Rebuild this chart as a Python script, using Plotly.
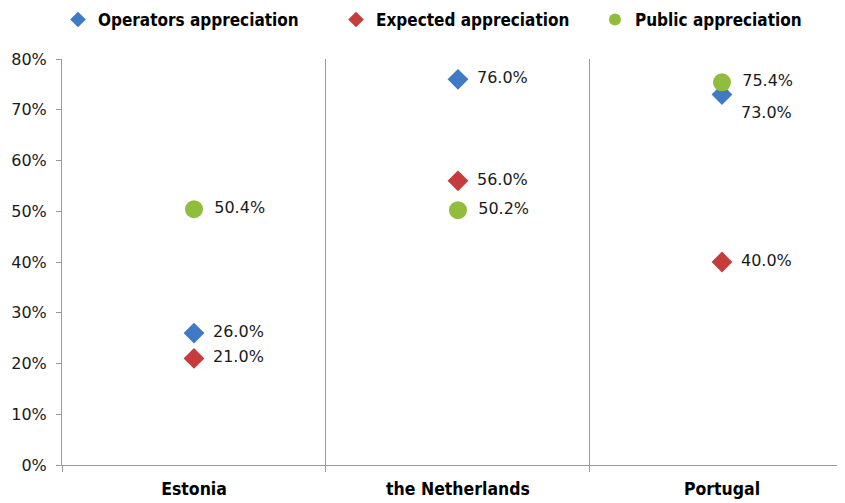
import plotly.graph_objects as go

categories = ["Estonia", "the Netherlands", "Portugal"]
operators = [26.0, 76.0, 73.0]
expected = [21.0, 56.0, 40.0]
public = [50.4, 50.2, 75.4]
y_ticks = [0, 10, 20, 30, 40, 50, 60, 70, 80]
y_tick_labels = [f"{v}%" for v in y_ticks]

xpos = list(range(len(categories)))
label_font = dict(family="DejaVu Sans", size=16, color="#1a1a1a")
W, H = 837, 495  # page body adds an 8px offset

def fmt(vals):
    return [f"\u2002{v:.1f}%" for v in vals]

fig = go.Figure()
fig.add_trace(go.Scatter(
    x=xpos, y=operators, mode="markers+text", name="Operators appreciation",
    marker=dict(symbol="diamond", size=16, color="#3F7AC6"),
    text=fmt(operators),
    textposition=["middle right", "middle right", "bottom right"],
    textfont=label_font, cliponaxis=False, legend="legend",
))
fig.add_trace(go.Scatter(
    x=xpos, y=expected, mode="markers+text", name="Expected appreciation",
    marker=dict(symbol="diamond", size=16, color="#C63B3B"),
    text=fmt(expected), textposition="middle right",
    textfont=label_font, cliponaxis=False, legend="legend2",
))
fig.add_trace(go.Scatter(
    x=xpos, y=public, mode="markers+text", name="Public appreciation",
    marker=dict(symbol="circle", size=18, color="#90BD3C"),
    text=fmt(public), textposition="middle right",
    textfont=label_font, cliponaxis=False, legend="legend3",
))

legend_font = dict(family="DejaVu Sans Condensed", size=17, color="#000000", weight="bold")
def leg(xpx):
    return dict(orientation="h", x=xpx / W, y=1 - 12 / H, xanchor="left", yanchor="middle",
                xref="container", yref="container", font=legend_font,
                itemsizing="constant", bgcolor="rgba(0,0,0,0)")

fig.update_layout(
    width=W, height=H,
    margin=dict(l=54, r=0, t=51, b=38, autoexpand=False),
    paper_bgcolor="white", plot_bgcolor="white",
    showlegend=True,
    legend=leg(50), legend2=leg(328), legend3=leg(587),
    xaxis=dict(
        range=[-0.5, 2.466], tickvals=xpos, ticktext=categories,
        tickfont=dict(family="DejaVu Sans Condensed", size=17.5, color="#000000", weight="bold"),
        showgrid=False, zeroline=False, ticks="", automargin=False,
        showline=True, linecolor="#9a9a9a", linewidth=1,
        minor=dict(tick0=0.5, dtick=1, showgrid=True, gridcolor="#9a9a9a", gridwidth=1,
                   ticks="outside", ticklen=6, tickcolor="#9a9a9a"),
        ticklabelstandoff=8,
    ),
    yaxis=dict(
        range=[0, 80], tickvals=y_ticks, ticktext=y_tick_labels,
        tickfont=dict(family="DejaVu Sans", size=16, color="#1a1a1a"),
        showgrid=False, zeroline=False, automargin=False,
        showline=True, linecolor="#9a9a9a", linewidth=1,
        ticks="outside", ticklen=5, tickcolor="#9a9a9a",
        ticklabelstandoff=6,
    ),
)

fig.write_html("out.html")
